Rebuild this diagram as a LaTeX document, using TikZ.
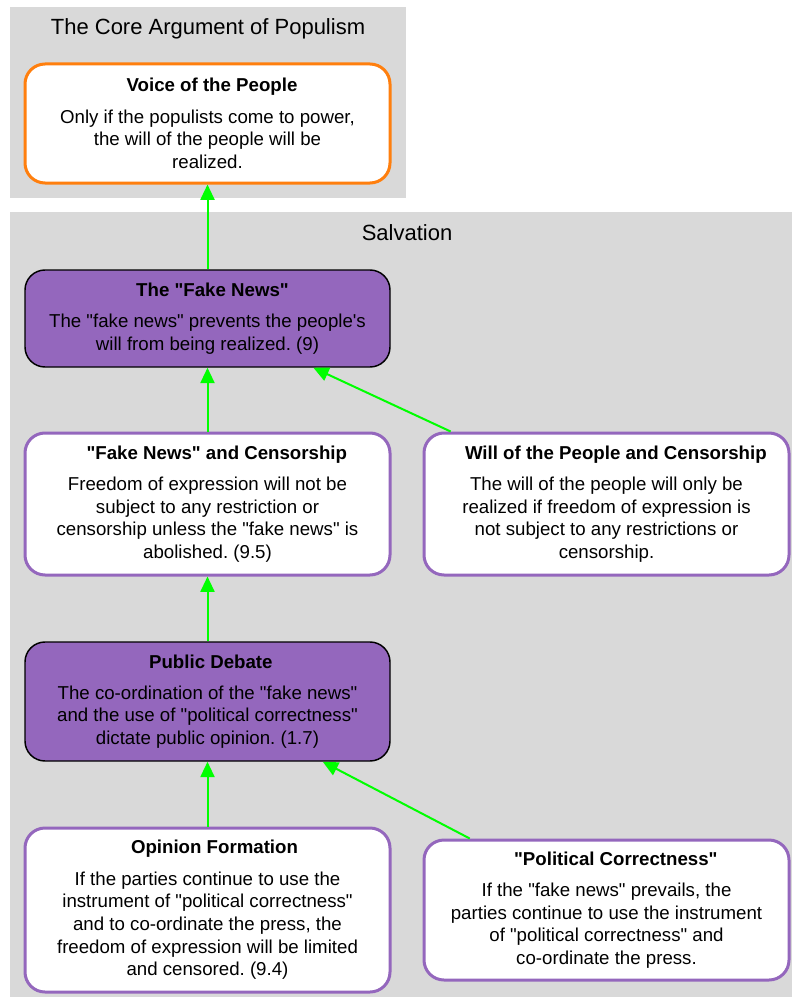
\documentclass[tikz,border=0pt]{standalone}
\usepackage{fontspec}
\setmainfont{Liberation Sans}[Ligatures=TeXOff]
\usetikzlibrary{arrows.meta, positioning}
\frenchspacing
\definecolor{clustergray}{HTML}{D9D9D9}
\definecolor{argpurple}{HTML}{9467BD}
\definecolor{argorange}{HTML}{FF7F0E}
\definecolor{linkgreen}{HTML}{00FF00}
\tikzset{
  >={Triangle[length=11.5pt, width=10.5pt]},
  cluster/.style={fill=clustergray},
  clustertitle/.style={font=\fontsize{16.5}{19}\selectfont},
  box/.style={rectangle, rounded corners=15pt, align=center,
    minimum width=273.75pt, inner sep=0pt,
    font=\fontsize{14}{17}\selectfont},
  claim/.style={box, draw=argpurple, line width=2.25pt, fill=white},
  mainclaim/.style={box, draw=black, line width=1.1pt, fill=argpurple},
  conclusion/.style={box, draw=argorange, line width=2.25pt, fill=white},
  link/.style={->, draw=linkgreen, fill=linkgreen, line width=1.5pt},
}
\newcommand{\hd}[2][0pt]{\hspace*{#1}\textbf{#2}\\[6.3pt]}

\begin{document}
\begin{tikzpicture}[x=0.75pt, y=-0.75pt]
  \useasboundingbox (0,0) rectangle (792,999);

  % clusters
  \fill[cluster] (10,7) rectangle (406,198);
  \fill[cluster] (10,212) rectangle (792,997);
  \node[clustertitle] (coretitle) at (208,29) {The Core Argument of Populism};
  \node[clustertitle] (salvtitle) at (407,233) {Salvation};

  % nodes
  \node[conclusion, minimum height=89.25pt] (voice) at (207.5,123.5)
    {\hd[6.75pt]{Voice of the People}Only if the populists come to power,\\the will of the people will be\\realized.};
  \node[mainclaim, minimum height=72.75pt] (fakenews) at (207.5,318.5)
    {\hd[7.5pt]{The "Fake News"}The "fake news" prevents the people's\\will from being realized. (9)};
  \node[claim, minimum height=106.5pt] (fnc) at (207.5,504)
    {\hd[14pt]{"Fake News" and Censorship}Freedom of expression will not be\\subject to any restriction or\\censorship unless the "fake news" is\\abolished. (9.5)};
  \node[claim, minimum height=106.5pt, right=23.25pt of fnc] (wopc)
    {\hd[14pt]{Will of the People and Censorship}The will of the people will only be\\realized if freedom of expression is\\not subject to any restrictions or\\censorship.};
  \node[mainclaim, minimum height=89.25pt] (debate) at (207.5,701.5)
    {\hd[5pt]{Public Debate}The co-ordination of the "fake news"\\and the use of "political correctness"\\dictate public opinion. (1.7)};
  \node[claim, minimum height=123pt] (opinion) at (207.5,910)
    {\hd[10.5pt]{Opinion Formation}If the parties continue to use the\\instrument of "political correctness"\\and to co-ordinate the press, the\\freedom of expression will be limited\\and censored. (9.4)};
  \node[claim, minimum height=105pt, right=23.25pt of opinion] (polcor)
    {\hd[14pt]{"Political Correctness"}If the "fake news" prevails, the\\parties continue to use the instrument\\of "political correctness" and\\co-ordinate the press.};

  % edges
  \draw[link] (fakenews) -- (voice);
  \draw[link] (fnc) -- (fakenews);
  \draw[link] (wopc) -- (fakenews);
  \draw[link] (debate) -- (fnc);
  \draw[link] (opinion) -- (debate);
  \draw[link] (polcor) -- (debate);
\end{tikzpicture}
\end{document}
